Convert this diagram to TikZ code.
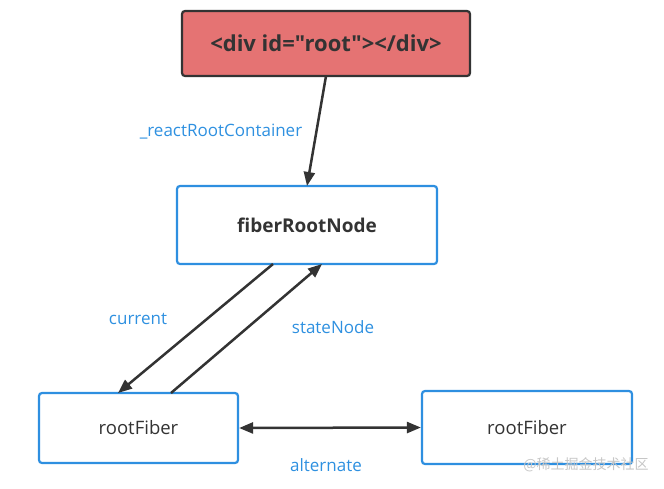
\documentclass[tikz,border=0pt]{standalone}
\usepackage{fontspec}
\setmainfont{Open Sans}[Ligatures=TeXOff]
\newfontfamily\cjk{Noto Sans CJK SC}
\usetikzlibrary{arrows.meta}
\definecolor{boxblue}{HTML}{2E8FE0}
\definecolor{lblblue}{HTML}{2E90E0}
\definecolor{redfill}{HTML}{E57373}
\definecolor{darkline}{HTML}{333333}
\definecolor{txt}{HTML}{333333}
\begin{document}
\begin{tikzpicture}[x=1pt,y=-1pt,
  bluebox/.style={draw=boxblue,line width=2.2pt,rounded corners=3pt,fill=white,inner sep=0pt,text=txt,font=\fontsize{18.5}{20}\selectfont},
  redbox/.style={draw=darkline,line width=2.2pt,rounded corners=3pt,fill=redfill,inner sep=0pt,text=txt,font=\fontsize{22}{24}\selectfont\bfseries},
  conn/.style={draw=darkline,line width=2.5pt,-{Triangle[length=14pt,width=11pt]}},
  biconn/.style={draw=darkline,line width=2.5pt,{Triangle[length=14pt,width=11pt]}-{Triangle[length=14pt,width=11pt]}},
  lbl/.style={text=lblblue,font=\fontsize{17}{19}\selectfont,inner sep=0pt}]
\useasboundingbox (0,0) rectangle (664,488);
\node[redbox,minimum width=288pt,minimum height=65pt] (div) at (326,43.5) {<div id="root"></div>};
\node[bluebox,minimum width=260pt,minimum height=78pt,font=\fontsize{19}{21}\selectfont\bfseries] (frn) at (307,225) {fiberRootNode};
\node[bluebox,minimum width=199pt,minimum height=70pt] (rf1) at (138.5,428) {rootFiber};
\node[bluebox,minimum width=210pt,minimum height=73pt] (rf2) at (527,427.5) {rootFiber};
\coordinate (d1) at (326,76);
\coordinate (f1) at (307,186);
\coordinate (fa) at (273,264);
\coordinate (fb) at (322,264);
\coordinate (ra) at (118,393);
\coordinate (rb) at (171,393);
\draw[conn] (d1) -- (f1);
\draw[conn] (fa) -- (ra);
\draw[conn] (rb) -- (fb);
\draw[biconn] (rf1.east) -- (rf2.west);
\node[lbl] (l1) at (221,132) {\_reactRootContainer};
\node[lbl] (l2) at (138,319) {current};
\node[lbl] (l3) at (333,327) {stateNode};
\node[lbl] (l4) at (326,465) {alternate};
\node[text=gray!45,font=\cjk\fontsize{14}{16}\selectfont,inner sep=0pt] (wm) at (586,465) {@稀土掘金技术社区};
\end{tikzpicture}
\end{document}
